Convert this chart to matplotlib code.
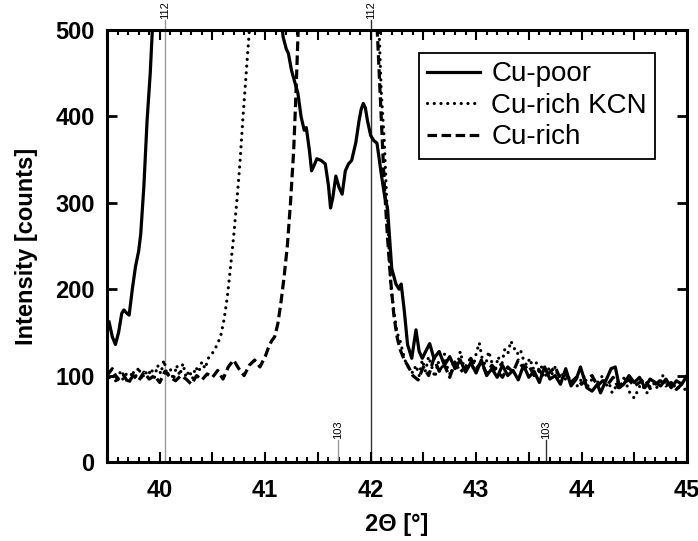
import matplotlib
matplotlib.use("Agg")
import matplotlib.pyplot as plt
from matplotlib.ticker import MultipleLocator, FuncFormatter

plt.rcParams['font.family'] = ['Liberation Sans', 'DejaVu Sans']

# ---------------- data ----------------
poor_x = [39.52, 39.55, 39.58, 39.61, 39.64, 39.66, 39.69, 39.71, 39.74, 39.77, 39.80,
          39.82, 39.85, 39.88, 39.91, 39.93, 39.96, 41.10, 41.13, 41.17, 41.20, 41.22,
          41.25, 41.28, 41.31, 41.34, 41.37, 41.39, 41.42, 41.44, 41.47, 41.49, 41.53,
          41.57, 41.60, 41.62, 41.64, 41.67, 41.70, 41.73, 41.76, 41.79, 41.82, 41.86,
          41.89, 41.91, 41.93, 41.95, 41.97, 42.00, 42.03, 42.06, 42.08, 42.10, 42.13,
          42.16, 42.20, 42.24, 42.27, 42.29, 42.32, 42.35, 42.39, 42.43, 42.46, 42.49,
          42.53, 42.56, 42.60, 42.65, 42.70, 42.75, 42.80, 42.85, 42.90, 42.95, 43.00,
          43.05, 43.10, 43.15, 43.20, 43.25, 43.30, 43.35, 43.40, 43.45, 43.50, 43.55,
          43.60, 43.65, 43.70, 43.75, 43.80, 43.85, 43.90, 43.95, 43.99, 44.05, 44.10,
          44.15, 44.18, 44.23, 44.28, 44.32, 44.36, 44.40, 44.45, 44.50, 44.55, 44.60,
          44.65, 44.70, 44.75, 44.80, 44.85, 44.90, 44.95, 45.00]
poor_y = [162, 145, 136, 150, 172, 176, 172, 170, 200, 226, 244,
          264, 320, 395, 450, 500, 580, 600, 540, 492, 478, 473,
          453, 440, 427, 400, 384, 387, 360, 337, 345, 351, 349,
          345, 320, 294, 305, 331, 318, 310, 337, 345, 349, 370,
          395, 408, 415, 410, 395, 378, 372, 369, 352, 334, 310,
          294, 224, 206, 200, 206, 174, 136, 120, 153, 128, 120,
          130, 137, 120, 128, 112, 122, 108, 118, 104, 115, 103,
          118, 100, 108, 98, 112, 100, 106, 95, 112, 98, 105,
          92, 110, 96, 100, 90, 108, 88, 96, 110, 86, 82,
          90, 80, 94, 108, 110, 86, 90, 100, 92, 98, 86,
          96, 92, 88, 96, 86, 94, 90, 100]

kcn_x = [39.50, 39.53, 39.56, 39.59, 39.62, 39.65, 39.68, 39.71, 39.74, 39.77, 39.80,
         39.83, 39.86, 39.89, 39.92, 39.95, 39.98, 40.01, 40.04, 40.07, 40.10, 40.13,
         40.16, 40.19, 40.22, 40.25, 40.28, 40.31, 40.34, 40.37, 40.40, 40.43, 40.46,
         40.49, 40.52, 40.55, 40.58, 40.61, 40.64, 40.67, 40.70, 40.73, 40.76, 40.79,
         40.82, 40.85, 40.88, 42.05, 42.08, 42.10, 42.13, 42.15, 42.17, 42.19, 42.22,
         42.25, 42.28, 42.31, 42.34, 42.37, 42.40, 42.43, 42.46, 42.49, 42.52, 42.55,
         42.58, 42.61, 42.64, 42.67, 42.70, 42.73, 42.76, 42.79, 42.82, 42.85, 42.88,
         42.91, 42.94, 42.97, 43.00, 43.03, 43.06, 43.09, 43.12, 43.15, 43.18, 43.21,
         43.24, 43.27, 43.30, 43.33, 43.36, 43.39, 43.42, 43.45, 43.48, 43.51, 43.54,
         43.57, 43.60, 43.63, 43.66, 43.69, 43.72, 43.75, 43.78, 43.81, 43.84, 43.87,
         43.90, 43.93, 43.96, 43.99, 44.02, 44.05, 44.08, 44.11, 44.14, 44.17, 44.20,
         44.23, 44.26, 44.29, 44.32, 44.35, 44.38, 44.41, 44.44, 44.47, 44.50, 44.53,
         44.56, 44.59, 44.62, 44.65, 44.68, 44.71, 44.74, 44.77, 44.80, 44.83, 44.86,
         44.89, 44.92, 44.95, 44.98, 45.00]
kcn_y = [105, 95, 100, 92, 104, 96, 102, 90, 106, 98, 110,
         95, 105, 100, 108, 98, 112, 102, 118, 100, 108, 95,
         112, 100, 114, 98, 106, 96, 110, 104, 116, 108, 120,
         124, 130, 137, 147, 165, 190, 224, 260, 300, 345, 400,
         450, 500, 570, 620, 500, 430, 370, 310, 260, 206, 175,
         150, 140, 125, 112, 108, 103, 112, 100, 118, 105, 122,
         110, 98, 116, 105, 125, 108, 100, 118, 110, 128, 112,
         105, 120, 108, 125, 138, 118, 112, 128, 115, 105, 122,
         110, 130, 125, 140, 132, 125, 130, 118, 112, 120, 108,
         115, 105, 112, 100, 108, 102, 110, 98, 104, 95, 100,
         92, 98, 88, 94, 100, 86, 92, 98, 90, 95, 100,
         88, 92, 80, 86, 95, 90, 100, 84, 78, 74, 82,
         90, 86, 80, 88, 92, 85, 95, 100, 88, 92, 84,
         90, 86, 92, 84, 88]

rich_x = [39.50, 39.55, 39.60, 39.65, 39.70, 39.75, 39.80, 39.85, 39.90, 39.95, 40.00,
          40.05, 40.10, 40.15, 40.20, 40.25, 40.30, 40.35, 40.40, 40.45, 40.50, 40.55,
          40.60, 40.65, 40.70, 40.75, 40.80, 40.85, 40.90, 40.95, 41.00, 41.03, 41.06,
          41.09, 41.12, 41.15, 41.18, 41.21, 41.24, 41.27, 41.29, 41.31, 41.33, 42.04,
          42.07, 42.10, 42.13, 42.16, 42.19, 42.22, 42.25, 42.28, 42.32, 42.36, 42.40,
          42.45, 42.50, 42.55, 42.60, 42.65, 42.70, 42.75, 42.80, 42.85, 42.90, 42.95,
          43.00, 43.05, 43.10, 43.15, 43.20, 43.25, 43.30, 43.35, 43.40, 43.45, 43.50,
          43.55, 43.60, 43.65, 43.70, 43.75, 43.80, 43.85, 43.90, 43.95, 44.00, 44.05,
          44.10, 44.15, 44.20, 44.25, 44.30, 44.35, 44.40, 44.45, 44.50, 44.55, 44.60,
          44.65, 44.70, 44.75, 44.80, 44.85, 44.90, 44.95, 45.00]
rich_y = [100, 108, 95, 102, 92, 100, 94, 104, 96, 100, 92,
          105, 98, 94, 100, 96, 90, 100, 95, 102, 98, 106,
          96, 110, 118, 108, 100, 112, 118, 110, 122, 132, 140,
          145, 160, 185, 215, 250, 300, 360, 420, 490, 560, 560,
          480, 400, 320, 260, 210, 170, 145, 130, 118, 110, 100,
          95, 110, 100, 120, 105, 112, 98, 115, 104, 110, 120,
          108, 115, 102, 112, 105, 98, 110, 104, 118, 108, 112,
          100, 106, 98, 104, 110, 96, 102, 92, 98, 90, 96,
          100, 88, 94, 90, 98, 86, 92, 95, 88, 92, 96,
          85, 90, 94, 88, 92, 84, 90, 86]

series_labels = ['Cu-poor', 'Cu-rich KCN', 'Cu-rich']
ref112 = [40.05, 42.00]
ref103 = [41.69, 43.66]
xticks = [40, 41, 42, 43, 44, 45]
yticks = [0, 100, 200, 300, 400, 500]

# ---------------- figure ----------------
fig = plt.figure(figsize=(6.98, 5.41), dpi=100)
ax = fig.add_axes([107 / 698, 1 - 462 / 541, 580 / 698, 432 / 541])

lw = 2.3
ax.plot(poor_x, poor_y, color='black', lw=lw, ls='-', label=series_labels[0],
        solid_joinstyle='round')
l2, = ax.plot(kcn_x, kcn_y, color='black', lw=lw, label=series_labels[1],
              dash_capstyle='round')
l2.set_dashes((0.01, 2.1))
l3, = ax.plot(rich_x, rich_y, color='black', lw=lw, label=series_labels[2])
l3.set_dashes((3.0, 1.4))

# reference lines 112
cols112 = ['0.6', '0.2']
for x, c in zip(ref112, cols112):
    ax.axvline(x, color=c, lw=1.0, zorder=0)
    ax.plot([x, x], [500, 512], color=c, lw=1.0, clip_on=False)
    ax.text(x, 513, '112', rotation=90, ha='center', va='bottom', fontsize=8,
            clip_on=False)
# reference lines 103
cols103 = ['0.6', '0.2']
for x, c in zip(ref103, cols103):
    ax.plot([x, x], [0, 26], color=c, lw=1.0)
    ax.text(x, 27, '103', rotation=90, ha='center', va='bottom', fontsize=8)

ax.set_xlim(39.5, 45.0)
ax.set_ylim(0, 500)
ax.xaxis.set_major_locator(MultipleLocator(0.5))
ax.xaxis.set_minor_locator(MultipleLocator(0.1))
ax.xaxis.set_major_formatter(FuncFormatter(
    lambda v, p: f'{int(round(v))}' if abs(v - round(v)) < 1e-6 else ''))
ax.set_yticks(yticks)

for side in ax.spines.values():
    side.set_linewidth(2.2)
ax.tick_params(axis='both', which='both', direction='in', top=True, right=True)
ax.tick_params(axis='x', which='major', length=7, width=1.5, pad=12)
ax.tick_params(axis='x', which='minor', length=3.5, width=1.5)
ax.tick_params(axis='y', which='major', length=7, width=2.0, pad=9)
for lab in ax.get_xticklabels() + ax.get_yticklabels():
    lab.set_fontsize(17)
    lab.set_fontweight('bold')

ax.set_xlabel('2Θ [°]', fontsize=17, fontweight='bold', labelpad=8)
ax.set_ylabel('Intensity [counts]', fontsize=17, fontweight='bold', labelpad=12)

leg = ax.legend(loc='upper right', bbox_to_anchor=(0.945, 0.947), borderaxespad=0,
                fontsize=20, frameon=True, fancybox=False, handlelength=1.9,
                labelspacing=0.2, borderpad=0.3, handletextpad=0.4)
leg.get_frame().set_edgecolor('black')
leg.get_frame().set_linewidth(1.3)
leg.get_frame().set_alpha(1)

fig.savefig('out.png', dpi=100)
